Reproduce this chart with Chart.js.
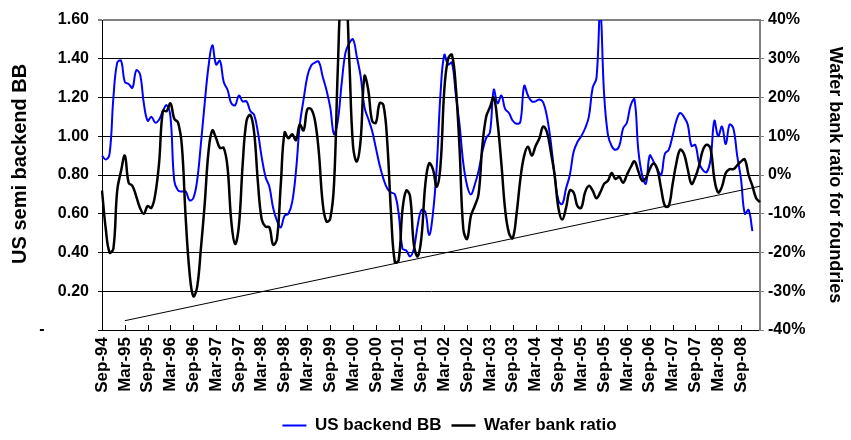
<!DOCTYPE html>
<html>
<head>
<meta charset="utf-8">
<script src="https://cdn.jsdelivr.net/npm/chart.js@4.4.0/dist/chart.umd.min.js"></script>
<style>
  html, body { margin: 0; padding: 0; background: #fff; }
  #wrap { width: 851px; height: 440px; }
</style>
</head>
<body>
<div id="wrap"><canvas id="chart" width="851" height="440"></canvas></div>
<script>
// monthly categories, Sep-94 .. Feb-09
const monthNames = ['Jan','Feb','Mar','Apr','May','Jun','Jul','Aug','Sep','Oct','Nov','Dec']
const firstYear = 1994, firstMonth = 8, monthCount = 174
const months = []
for (let i = 0; i < monthCount; i++) {
	const m = (firstMonth + i) % 12
	const y = firstYear + Math.floor((firstMonth + i) / 12)
	months.push(monthNames[m] + '-' + String(y % 100).padStart(2, '0'))
}

// US semi backend book-to-bill (left axis)
const backendBB = [
	0.90, 0.88, 0.91, 1.20, 1.38, 1.39, 1.28, 1.27, 1.25, 1.34, 1.32, 1.17,
	1.08, 1.10, 1.07, 1.085, 1.13, 1.16, 1.10, 0.77, 0.72, 0.715, 0.715, 0.67,
	0.68, 0.77, 0.96, 1.17, 1.36, 1.47, 1.37, 1.39, 1.28, 1.24, 1.17, 1.16,
	1.21, 1.18, 1.18, 1.13, 1.11, 1.02, 0.89, 0.79, 0.74, 0.63, 0.565, 0.53,
	0.59, 0.60, 0.66, 0.82, 1.06, 1.19, 1.31, 1.365, 1.38, 1.385, 1.31, 1.24,
	1.15, 1.01, 1.08, 1.27, 1.43, 1.48, 1.50, 1.41, 1.31, 1.15, 1.09, 1.03,
	0.94, 0.85, 0.78, 0.73, 0.71, 0.70, 0.60, 0.42, 0.41, 0.38, 0.42, 0.54,
	0.62, 0.61, 0.49, 0.60, 0.84, 1.22, 1.42, 1.37, 1.38, 1.22, 1.06, 0.86,
	0.745, 0.70, 0.75, 0.82, 0.92, 0.99, 1.02, 1.24, 1.17, 1.21, 1.14, 1.12,
	1.08, 1.065, 1.075, 1.26, 1.21, 1.18, 1.18, 1.19, 1.175, 1.10, 0.97, 0.80,
	0.67, 0.65, 0.73, 0.80, 0.92, 0.97, 1.00, 1.04, 1.10, 1.25, 1.30, 1.66,
	1.22, 1.01, 0.95, 0.93, 0.95, 1.04, 1.07, 1.16, 1.19, 0.93, 0.80, 0.755,
	0.90, 0.87, 0.83, 0.80, 0.91, 0.93, 1.00, 1.08, 1.12, 1.10, 1.06, 0.95,
	0.955, 0.86, 0.825, 0.815, 0.88, 1.08, 1.00, 1.05, 0.96, 1.06, 1.04, 0.90,
	0.78, 0.60, 0.62, 0.51
]

// wafer bank ratio for foundries, % (right axis)
const waferBank = [
	-4, -14, -20, -19, -4, 1, 5, -2, -2.8, -5.5, -8.5, -10,
	-8, -8.5, -5, 3, 16.5, 16.5, 18.5, 14.5, 13.5, 7.5, -11, -25,
	-31.3, -29, -19, -7.5, 6, 11.5, 9.5, 7, 7, 2, -12, -17.8,
	-13, 3, 14, 15.5, 11, -2, -11.5, -13.3, -13.5, -18, -16.5, -2.5,
	11, 9.5, 10.5, 9, 13, 11.5, 17, 17, 14, 6, -7, -12,
	-11.3, -2.5, 27.5, 49, 49, 30, 7.5, 3.5, 9, 25.5, 22, 14,
	13.5, 18.5, 18, 8.5, -10, -22.5, -22, -9, -4, -5.5, -18, -21,
	-16, -2.5, 3, 1.5, -3, 2.5, 22, 30, 31, 23, 7, -14,
	-16.5, -10.5, -8, -5, 7.5, 15, 17.5, 20, 13.5, 3, -9, -15,
	-16.3, -10, -1, 5, 7.3, 5, 7.5, 9.5, 12.5, 11, 6, 0,
	-8.5, -11.5, -8.5, -4, -4.5, -8, -8.5, -4.5, -2.8, -4, -6, -4.5,
	-2.3, -1.5, 0.5, -1, -0.5, -2, 0, 2, 3.5, 1, -1.5, -0.8,
	1.5, 3, 1.5, -3.5, -8, -8, -2.5, 3, 6.5, 5.5, 1.5, -2.3,
	-0.5, 2.5, 6.5, 7.8, 6.8, -1, -4.5, -3, 0.5, 1.5, 1.5, 2.5,
	3.5, 4, 0, -2.8, -6, -7
]

// rising trend drawn under the troughs (right-axis units)
const trendMonths = ['Mar-95', 'Feb-09']
const trendValues = [-37.6, -2.9]

const leftTicks = [0, 0.2, 0.4, 0.6, 0.8, 1.0, 1.2, 1.4, 1.6]
const rightTicks = [-40, -30, -20, -10, 0, 10, 20, 30, 40]

const FONT = 'Liberation Sans, Arial, sans-serif'
Chart.defaults.font.family = FONT
Chart.defaults.font.weight = 'bold'
Chart.defaults.color = '#000'

// small tick marks pointing up from the category axis, every six months
const innerTicks = {
	id: 'innerTicks',
	afterDatasetsDraw(chart) {
		const x = chart.scales.x
		const bottom = chart.chartArea.bottom
		const ctx = chart.ctx
		ctx.save()
		ctx.strokeStyle = '#000'
		ctx.lineWidth = 1
		ctx.beginPath()
		months.forEach((m, i) => {
			if (i % 6 !== 0) return
			const px = Math.round(x.getPixelForValue(i)) + 0.5
			ctx.moveTo(px, bottom)
			ctx.lineTo(px, bottom - 5)
		})
		ctx.stroke()
		ctx.restore()
	}
}

// legend sits a little right of centre in the original
const shiftLegend = {
	id: 'shiftLegend',
	afterLayout(chart) {
		chart.legend.left += 24
		chart.legend.right += 24
	}
}

new Chart(document.getElementById('chart'), {
	type: 'line',
	data: {
		labels: months,
		datasets: [
			{
				label: 'US backend BB',
				data: backendBB,
				yAxisID: 'y',
				borderColor: '#0000ff',
				backgroundColor: '#0000ff',
				borderWidth: 2,
				pointRadius: 0,
				tension: 0.4,
				order: 2
			},
			{
				label: 'Wafer bank ratio',
				data: waferBank,
				yAxisID: 'y2',
				borderColor: '#000',
				backgroundColor: '#000',
				borderWidth: 2.5,
				pointRadius: 0,
				tension: 0.4,
				order: 1
			},
			{
				label: 'trend',
				data: trendMonths.map((m, i) => ({ x: m, y: trendValues[i] })),
				yAxisID: 'y2',
				borderColor: '#000',
				borderWidth: 1,
				pointRadius: 0,
				tension: 0,
				order: 0
			}
		]
	},
	options: {
		responsive: false,
		animation: false,
		devicePixelRatio: 1,
		layout: { padding: { top: 20, left: 0, right: 0, bottom: -4 } },
		plugins: {
			tooltip: { enabled: false },
			legend: {
				position: 'bottom',
				labels: {
					filter: (item) => item.datasetIndex < 2,
					sort: (a, b) => a.datasetIndex - b.datasetIndex,
					usePointStyle: true,
					pointStyle: 'line',
					pointStyleWidth: 24,
					padding: 10,
					font: { size: 17, weight: 'bold' },
					color: '#000'
				}
			}
		},
		scales: {
			x: {
				type: 'category',
				offset: false,
				grid: { display: false, drawTicks: false },
				border: { display: true, color: '#000', width: 1 },
				ticks: {
					autoSkip: false,
					minRotation: 90,
					maxRotation: 90,
					padding: 7,
					font: { size: 17, weight: 'bold' },
					callback: function (val, idx) {
						return idx % 6 === 0 ? this.getLabelForValue(val) : ''
					}
				},
				afterFit: (s) => { s.height = 77 }
			},
			y: {
				position: 'left',
				min: 0,
				max: 1.6,
				afterBuildTicks: (s) => { s.ticks = leftTicks.map((v) => ({ value: v })) },
				grid: {
					color: (c) => (c.tick && c.tick.value === 1.6 ? '#808080' : '#000'),
					lineWidth: (c) => (c.tick && c.tick.value === 1.6 ? 2 : 1),
					tickLength: 4
				},
				border: { color: '#000', width: 1 },
				ticks: {
					padding: 9,
					font: { size: 16, weight: 'bold' },
					callback: (v) => (v === 0 ? '-' + '\u00a0'.repeat(10) : v.toFixed(2))
				},
				title: {
					display: true,
					text: '    US semi backend BB',
					font: { size: 20, weight: 'bold' },
					padding: { top: 8, bottom: 0 }
				},
				afterFit: (s) => { s.width = 102 }
			},
			y2: {
				position: 'right',
				min: -40,
				max: 40,
				afterBuildTicks: (s) => { s.ticks = rightTicks.map((v) => ({ value: v })) },
				grid: { drawOnChartArea: false, color: '#808080', tickLength: 4 },
				border: { color: '#808080', width: 2 },
				ticks: {
					padding: 4,
					font: { size: 16, weight: 'bold' },
					callback: (v) => v + '%'
				},
				title: {
					display: true,
					text: 'Wafer bank ratio for foundries',
					font: { size: 18, weight: 'bold' },
					padding: { top: 5, bottom: 0 }
				},
				afterFit: (s) => { s.width = 91 }
			}
		}
	},
	plugins: [innerTicks, shiftLegend]
})
</script>
</body>
</html>
